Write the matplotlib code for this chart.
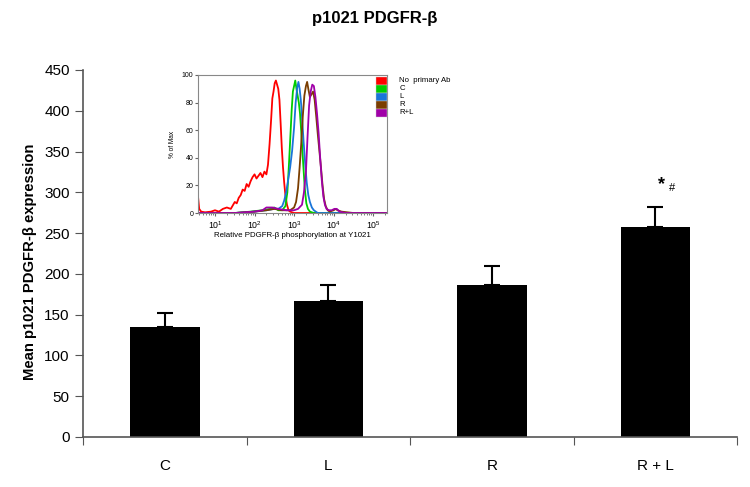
import numpy as np
import matplotlib
matplotlib.use("Agg")
import matplotlib.pyplot as plt
from matplotlib.patches import Rectangle

plt.rcParams['font.family'] = ['Liberation Sans', 'DejaVu Sans']

# ---- main bar data ----
categories = ["C", "L", "R", "R + L"]
means = [135, 167, 186, 257]
errors = [17, 19, 24, 25]
yticks = [0, 50, 100, 150, 200, 250, 300, 350, 400, 450]

# ---- inset histogram data (log10 intensity, % of max) ----
red_x = [0.57,0.60,0.65,0.75,0.9,1.0,1.1,1.2,1.3,1.4,1.5,1.55,1.6,1.65,1.7,1.75,1.8,1.85,1.9,1.95,2.0,2.05,2.1,2.15,2.2,2.25,2.3,2.34,2.38,2.42,2.45,2.48,2.51,2.54,2.57,2.6,2.63,2.66,2.69,2.72,2.75,2.78,2.82,2.86,2.9,3.0,3.5,4.5,5.35]
red_y = [12,3,1,0.5,1,2,1,3,4,3,8,7,11,13,17,16,21,19,23,26,28,25,27,29,26,30,28,35,50,68,83,88,94,96,93,90,82,65,47,33,22,13,6,2,1,0,0,0,0]
green_x = [0.57,1.5,1.9,2.2,2.4,2.5,2.6,2.7,2.78,2.83,2.87,2.9,2.94,2.97,3.0,3.03,3.06,3.09,3.12,3.15,3.19,3.23,3.27,3.31,3.35,3.4,3.5,4.0,5.35]
green_y = [0,0,1,2,3,4,2,2,5,15,35,52,75,88,92,96,90,85,80,72,55,36,18,7,3,1,0,0,0]
blue_x = [0.57,1.5,2.0,2.3,2.5,2.6,2.7,2.75,2.8,2.85,2.9,2.95,3.0,3.04,3.08,3.11,3.14,3.17,3.2,3.24,3.28,3.32,3.36,3.4,3.45,3.5,3.6,4.0,5.35]
blue_y = [0,0,1,2,3,3,5,9,15,24,33,45,62,80,91,95,90,82,70,52,36,22,13,8,4,2,0,0,0]
brown_x = [0.57,1.5,2.0,2.3,2.5,2.7,2.9,3.0,3.05,3.1,3.14,3.18,3.22,3.26,3.3,3.33,3.36,3.4,3.44,3.48,3.52,3.56,3.6,3.64,3.68,3.72,3.76,3.8,3.85,3.9,4.0,4.05,4.1,4.2,4.5,5.35]
brown_y = [0,0,1,2,3,2,2,4,8,18,33,50,70,85,92,95,90,84,86,88,82,70,57,45,33,20,10,5,2,1,2,3,2,1,0,0]
magenta_x = [0.57,1.5,2.0,2.2,2.3,2.45,2.6,2.8,3.0,3.1,3.2,3.25,3.3,3.34,3.38,3.42,3.46,3.5,3.54,3.58,3.62,3.66,3.7,3.74,3.78,3.82,3.88,3.95,4.02,4.08,4.15,4.3,5.35]
magenta_y = [0,0,1,2,4,4,3,2,2,3,6,15,30,55,78,88,93,92,84,72,58,40,24,12,6,3,2,2,3,3,1,0,0]

legend_labels = ["No  primary Ab", "C", "L", "R", "R+L"]
colors = ["#ff0000", "#00cc00", "#1a75d9", "#7a3d00", "#a000a8"]

fig = plt.figure(figsize=(7.5, 4.87), dpi=100)
fig.patch.set_facecolor("white")

ax = fig.add_axes([0.1107, 0.1027, 0.872, 0.7536])
xpos = np.arange(len(categories)) + 0.5
ax.bar(xpos, means, width=0.425, color="black", zorder=2)
ax.errorbar(xpos, means, yerr=[np.zeros(len(errors)), errors], fmt="none",
            ecolor="black", elinewidth=1.5, capsize=6, capthick=1.5, zorder=3)
ax.set_xlim(0, 4)
ax.set_ylim(0, 450)
ax.set_yticks(yticks)
ax.set_yticklabels([str(v) for v in yticks], fontsize=11)
ax.set_xticks(np.arange(5))
ax.set_xticklabels([""] * 5)
ax.set_xticks(xpos, minor=True)
ax.set_xticklabels(categories, minor=True, fontsize=11)
ax.tick_params(axis="x", which="minor", length=0, pad=16)
ax.tick_params(axis="x", which="major", length=6, color="#555555")
ax.tick_params(axis="y", length=6, color="#555555")
for s in ["top", "right"]:
    ax.spines[s].set_visible(False)
for s in ["left", "bottom"]:
    ax.spines[s].set_color("#555555")
    ax.spines[s].set_linewidth(1.2)
ax.set_ylabel("Mean p1021 PDGFR-β expression", fontsize=10.7, fontweight="bold")
ax.yaxis.set_label_coords(-0.070, 0.478)
fig.text(0.5, 0.963, "p1021 PDGFR-β", ha="center", va="center", fontsize=12, fontweight="bold")

ax.text(3.537, 310, "*", ha="center", va="center", fontsize=13, fontweight="bold")
ax.text(3.6, 305, "#", ha="center", va="center", fontsize=8)

# ---- inset ----
ai = fig.add_axes([0.264, 0.5626, 0.252, 0.2834])
curves = [(red_x, red_y), (green_x, green_y), (blue_x, blue_y), (brown_x, brown_y), (magenta_x, magenta_y)]
for (cx, cy), c in zip(curves, colors):
    ai.plot(10 ** np.array(cx), cy, color=c, lw=1.3)
ai.set_xscale("log")
ai.set_xlim(10 ** 0.57, 10 ** 5.35)
ai.set_ylim(0, 100)
ai.set_yticks([0, 20, 40, 60, 80, 100])
ai.set_yticklabels(["0", "20", "40", "60", "80", "100"], fontsize=5)
ai.set_xticks([10, 100, 1000, 1e4, 1e5])
ai.tick_params(axis="x", labelsize=6.3, length=2.5, pad=2, color="#666666")
ai.tick_params(axis="x", which="minor", length=1.5, color="#666666")
ai.tick_params(axis="y", length=2, pad=1.5, color="#666666")
for s in ai.spines.values():
    s.set_color("#888888")
    s.set_linewidth(0.8)
ai.set_xlabel("Relative PDGFR-β phosphorylation at Y1021", fontsize=5.7, labelpad=1)
ai.set_ylabel("% of Max", fontsize=4.7, labelpad=4)

box_h = 0.058
for i, c in enumerate(colors):
    y0 = 0.986 - (i + 1) * box_h
    ai.add_patch(Rectangle((0.942, y0), 0.058, box_h, transform=ai.transAxes,
                           facecolor=c, edgecolor="#cccccc", lw=0.3, clip_on=False, zorder=5))
    ai.text(1.065, y0 + box_h / 2, legend_labels[i], transform=ai.transAxes,
            fontsize=5.6, va="center", ha="left")

fig.savefig("out.png", dpi=100, facecolor="white")
